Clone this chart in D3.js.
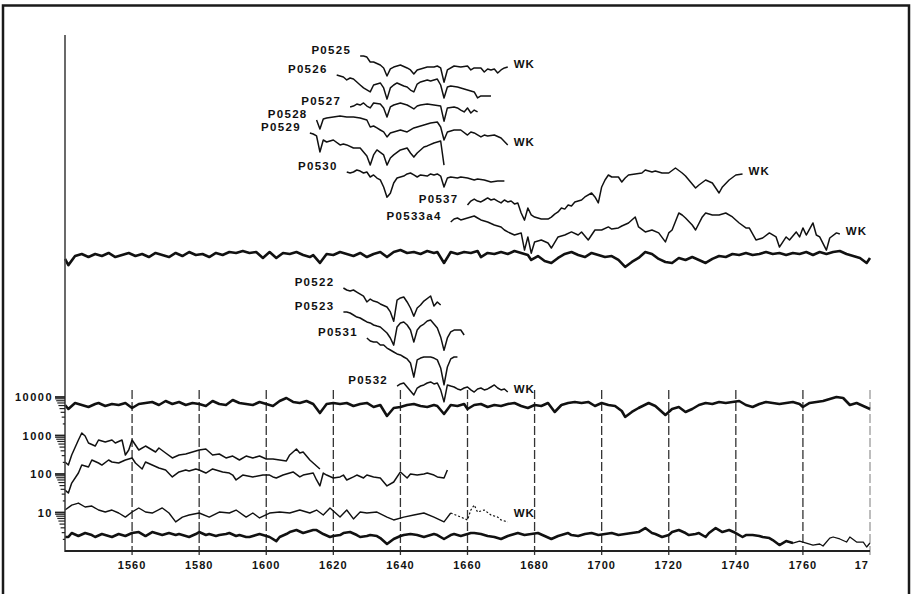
<!DOCTYPE html>
<html>
<head>
<meta charset="utf-8">
<script src="https://cdn.jsdelivr.net/npm/d3@7"></script>
<style>
  body { margin: 0; background: #fff; }
  text { font-family: "Liberation Sans", Arial, sans-serif; font-weight: bold; fill: #111; }
</style>
</head>
<body>
<svg id="chart" width="912" height="594"></svg>
<script>
// Ring-width series as [year, width] pairs (widths in 1/100 mm unless noted).
// Stacked series are shifted on the log axis by a number of decades (see layers).

// Upper reference chronology (index values)
const masterUpper = [[1540,84],[1541,58],[1543,100],[1545,113],[1547,94],[1549,113],[1551,100],[1553,120],[1555,94],[1557,106],[1559,120],[1561,100],[1563,113],[1565,94],[1567,120],[1569,106],[1571,94],[1573,120],[1575,100],[1577,127],[1579,106],[1581,113],[1583,94],[1585,120],[1587,106],[1589,127],[1591,120],[1593,135],[1595,120],[1597,127],[1599,89],[1601,127],[1603,89],[1605,120],[1607,113],[1609,127],[1611,106],[1613,94],[1614,106],[1616,66],[1618,113],[1620,106],[1622,127],[1624,113],[1626,100],[1628,120],[1630,94],[1632,113],[1634,127],[1636,94],[1638,127],[1640,143],[1642,120],[1644,127],[1646,113],[1648,135],[1650,120],[1651,127],[1653,66],[1655,127],[1657,113],[1659,127],[1661,120],[1663,135],[1664,94],[1666,120],[1668,113],[1670,127],[1672,113],[1674,135],[1676,120],[1678,106],[1679,79],[1681,100],[1683,74],[1685,66],[1687,89],[1689,113],[1691,127],[1693,106],[1695,94],[1697,120],[1699,106],[1701,94],[1703,100],[1705,79],[1707,52],[1709,70],[1711,89],[1713,127],[1715,113],[1717,84],[1719,70],[1721,66],[1723,89],[1725,79],[1727,94],[1729,79],[1731,66],[1733,84],[1735,100],[1737,94],[1739,113],[1741,106],[1743,120],[1745,106],[1747,113],[1749,127],[1751,113],[1753,120],[1755,106],[1757,120],[1759,113],[1761,127],[1763,106],[1765,127],[1767,113],[1769,127],[1771,135],[1773,113],[1775,100],[1777,89],[1779,66],[1780,89]];

// Individual samples, upper group
const p0525 = [[1628,182],[1629,182],[1630,171],[1631,127],[1632,127],[1634,106],[1635,89],[1636,55],[1637,84],[1638,94],[1640,106],[1642,89],[1643,79],[1644,62],[1645,79],[1646,84],[1648,94],[1650,94],[1651,100],[1652,89],[1653,38],[1654,79],[1656,100],[1658,94],[1660,100],[1661,79],[1662,89],[1664,89],[1665,70],[1666,84],[1667,79],[1668,84],[1669,66],[1670,79],[1671,89],[1672,94]];
const p0526 = [[1621,182],[1622,171],[1623,161],[1624,135],[1625,152],[1626,143],[1628,100],[1629,84],[1631,66],[1632,100],[1634,113],[1635,84],[1636,43],[1637,84],[1638,100],[1639,113],[1641,94],[1642,89],[1643,74],[1644,66],[1645,106],[1646,120],[1648,135],[1649,127],[1651,143],[1652,100],[1653,46],[1654,89],[1655,94],[1657,89],[1659,79],[1661,70],[1662,66],[1663,46],[1664,52],[1667,52]];
const p0527 = [[1625,89],[1626,94],[1627,106],[1628,100],[1629,113],[1630,94],[1631,84],[1632,113],[1634,106],[1635,84],[1636,49],[1637,89],[1638,100],[1640,113],[1642,100],[1643,89],[1644,79],[1645,94],[1646,100],[1648,106],[1650,100],[1652,94],[1653,38],[1654,84],[1656,89],[1657,84],[1658,74],[1659,66],[1660,84],[1661,62],[1662,74],[1663,66]];
const p0528 = [[1615,182],[1616,106],[1617,193],[1618,205],[1620,218],[1622,231],[1624,218],[1626,218],[1628,205],[1630,182],[1631,120],[1632,127],[1633,113],[1634,100],[1635,89],[1636,66],[1637,84],[1638,89],[1640,100],[1641,94],[1642,89],[1644,113],[1646,127],[1648,143],[1649,152],[1651,161],[1652,120],[1653,55],[1654,89],[1656,100],[1658,100],[1660,74],[1661,89],[1662,84],[1664,66],[1665,74],[1666,70],[1668,74],[1670,62],[1672,41]];
const p0529 = [[1613,245],[1614,231],[1615,205],[1616,79],[1617,161],[1618,143],[1619,152],[1620,161],[1622,120],[1623,127],[1624,120],[1626,100],[1628,100],[1629,79],[1630,62],[1631,36],[1632,66],[1633,89],[1635,66],[1636,36],[1637,55],[1638,66],[1640,89],[1642,100],[1643,74],[1644,58],[1645,74],[1647,106],[1648,113],[1650,135],[1651,143],[1652,152],[1653,36]];
const p0530 = [[1624,135],[1625,127],[1626,135],[1627,152],[1628,143],[1629,127],[1630,135],[1631,100],[1632,113],[1633,94],[1634,84],[1635,55],[1636,30],[1637,38],[1638,70],[1639,94],[1640,100],[1641,106],[1642,120],[1643,127],[1644,113],[1645,100],[1646,113],[1648,106],[1649,120],[1650,113],[1651,120],[1652,106],[1653,55],[1654,94],[1655,100],[1657,94],[1658,100],[1660,94],[1662,84],[1663,89],[1665,84],[1667,74],[1669,79],[1671,79]];
const p0537 = [[1660,74],[1661,94],[1662,106],[1663,94],[1664,89],[1665,100],[1666,113],[1667,100],[1668,106],[1669,94],[1670,84],[1671,100],[1672,89],[1673,94],[1674,79],[1675,84],[1676,46],[1677,30],[1678,62],[1679,41],[1680,36],[1682,32],[1684,32],[1685,36],[1686,43],[1687,49],[1688,62],[1689,58],[1690,74],[1691,70],[1692,89],[1694,100],[1695,120],[1697,152],[1698,120],[1699,84],[1700,218],[1701,331],[1702,446],[1703,396],[1705,396],[1706,293],[1707,372],[1708,446],[1710,473],[1712,502],[1713,601],[1715,533],[1716,566],[1718,502],[1720,502],[1722,678],[1724,502],[1725,420],[1726,331],[1728,205],[1729,245],[1731,331],[1733,276],[1735,152],[1736,218],[1738,331],[1740,446],[1742,473]];
const p0533a4 = [[1655,161],[1656,193],[1657,205],[1658,182],[1659,193],[1660,205],[1661,218],[1662,231],[1663,205],[1664,182],[1666,161],[1668,135],[1670,120],[1671,100],[1672,89],[1674,74],[1675,79],[1676,84],[1677,30],[1678,66],[1679,25],[1680,49],[1682,55],[1684,46],[1685,34],[1687,66],[1688,70],[1689,74],[1691,89],[1693,74],[1694,89],[1696,55],[1698,100],[1700,100],[1702,120],[1703,106],[1705,113],[1706,127],[1708,152],[1710,218],[1711,120],[1713,89],[1715,100],[1717,84],[1719,49],[1720,84],[1721,100],[1723,276],[1724,245],[1725,205],[1727,135],[1728,100],[1730,218],[1731,276],[1733,245],[1735,245],[1737,276],[1739,218],[1741,152],[1743,113],[1744,113],[1746,55],[1748,62],[1750,84],[1752,66],[1753,36],[1755,66],[1756,55],[1758,89],[1759,66],[1760,113],[1761,74],[1763,152],[1764,74],[1765,66],[1767,30],[1768,62],[1770,84],[1771,79]];

// Individual samples, lower group
const p0522 = [[1623,205],[1624,182],[1625,171],[1626,182],[1627,161],[1628,143],[1629,127],[1630,89],[1631,106],[1632,94],[1633,89],[1634,79],[1636,66],[1637,49],[1638,28],[1639,100],[1640,113],[1641,120],[1642,89],[1643,62],[1644,38],[1645,62],[1646,74],[1647,94],[1649,127],[1650,70],[1651,89],[1652,74]];
const p0523 = [[1623,218],[1624,218],[1625,205],[1626,182],[1627,161],[1628,152],[1629,135],[1630,120],[1631,113],[1632,100],[1633,94],[1634,89],[1635,74],[1636,62],[1637,46],[1638,30],[1639,89],[1640,113],[1641,120],[1642,100],[1643,74],[1644,36],[1645,74],[1646,94],[1647,106],[1648,127],[1649,135],[1650,106],[1651,84],[1652,49],[1653,22],[1654,46],[1655,66],[1656,74],[1658,74],[1659,55]];
const p0531 = [[1630,311],[1631,260],[1632,245],[1633,245],[1634,205],[1635,205],[1636,171],[1637,152],[1638,135],[1639,120],[1640,113],[1641,100],[1642,89],[1643,70],[1644,30],[1645,84],[1646,94],[1647,100],[1649,100],[1650,94],[1651,84],[1652,52],[1653,19],[1654,55],[1655,89],[1656,100],[1657,100]];
const p0532 = [[1639,106],[1640,120],[1641,127],[1642,100],[1643,79],[1644,62],[1645,94],[1646,106],[1647,113],[1648,127],[1649,135],[1650,120],[1651,127],[1652,84],[1653,41],[1654,113],[1655,106],[1656,100],[1657,89],[1658,84],[1659,94],[1660,100],[1661,84],[1662,74],[1663,89],[1664,94],[1665,84],[1666,89],[1667,100],[1668,113],[1669,94],[1670,84],[1671,89],[1672,74]];

// Log-scale panel: reference chronology, two mean curves, a site curve and sample depth
const masterLower = [[1540,6200],[1541,4880],[1543,6990],[1545,6200],[1547,5500],[1549,6580],[1550,6990],[1552,5840],[1554,6580],[1556,6200],[1558,6990],[1560,5180],[1562,6580],[1564,6990],[1566,7420],[1568,6200],[1570,7870],[1572,6580],[1574,7420],[1576,6200],[1578,6990],[1580,6580],[1582,5840],[1584,7870],[1586,6580],[1588,6200],[1590,8360],[1592,6990],[1594,6580],[1596,6200],[1598,7420],[1600,6580],[1602,5840],[1604,7870],[1606,9420],[1608,7420],[1610,6990],[1612,7870],[1614,6580],[1616,3840],[1618,6580],[1620,6990],[1622,6580],[1624,6990],[1626,5840],[1628,6580],[1630,6990],[1632,5500],[1634,6200],[1636,3210],[1638,5180],[1640,5500],[1642,6200],[1644,6580],[1646,5840],[1648,5500],[1650,6200],[1651,5840],[1653,3620],[1655,6200],[1657,5840],[1659,6580],[1660,4880],[1662,6200],[1664,6580],[1666,5500],[1668,6200],[1670,5840],[1672,6580],[1674,6990],[1676,5840],[1678,5180],[1680,6200],[1682,5840],[1684,6990],[1686,4080],[1688,6200],[1690,6990],[1692,7420],[1694,6990],[1696,7420],[1698,5840],[1700,6990],[1702,6200],[1704,5840],[1706,4330],[1707,3030],[1709,4080],[1711,5180],[1714,6990],[1716,5840],[1719,3410],[1721,4880],[1723,5500],[1725,4080],[1727,4880],[1729,6200],[1731,6990],[1733,6580],[1735,7420],[1737,6990],[1739,7420],[1741,7870],[1743,6200],[1745,5500],[1747,6580],[1749,7420],[1751,6990],[1753,6580],[1755,6990],[1757,7420],[1759,6580],[1760,5500],[1762,6990],[1764,7420],[1766,7870],[1768,8870],[1770,10000],[1772,9420],[1774,6200],[1776,6990],[1778,5840],[1780,4880]];
const meanCurveA = [[1540,205],[1541,171],[1542,312],[1544,764],[1545,1161],[1546,970],[1547,639],[1549,533],[1550,764],[1552,678],[1554,764],[1555,639],[1557,764],[1558,312],[1559,420],[1560,764],[1561,567],[1562,420],[1564,533],[1565,474],[1567,373],[1568,474],[1570,351],[1572,261],[1574,312],[1576,331],[1578,373],[1580,420],[1582,446],[1584,312],[1586,331],[1588,261],[1590,293],[1592,231],[1594,293],[1596,261],[1598,293],[1600,246],[1602,246],[1604,231],[1606,218],[1607,312],[1609,446],[1610,351],[1611,373],[1613,231],[1614,193],[1616,135]];
const meanCurveB = [[1540,38],[1541,32],[1542,58],[1544,106],[1545,171],[1547,152],[1548,231],[1550,193],[1551,171],[1553,231],[1554,205],[1556,193],[1558,231],[1560,260],[1561,193],[1563,135],[1564,205],[1566,171],[1568,143],[1570,127],[1572,84],[1574,113],[1576,127],[1577,120],[1579,135],[1580,127],[1582,106],[1584,135],[1587,113],[1589,106],[1590,94],[1591,70],[1593,94],[1596,84],[1599,94],[1601,94],[1602,84],[1603,79],[1605,94],[1606,100],[1608,113],[1610,84],[1611,94],[1614,106],[1615,70],[1616,49],[1617,106],[1618,94],[1620,79],[1622,84],[1623,94],[1624,70],[1626,84],[1627,94],[1629,79],[1630,94],[1632,84],[1634,79],[1636,49],[1638,62],[1640,113],[1642,79],[1643,100],[1645,94],[1647,100],[1648,106],[1650,94],[1651,84],[1653,79],[1654,127]];
const siteCurve = [[1540,11.6],[1542,15.6],[1544,17.6],[1546,13.9],[1548,14.7],[1550,11.6],[1552,10.3],[1554,11.6],[1556,9.7],[1558,7.6],[1560,10.3],[1562,13.1],[1564,10.3],[1566,9.7],[1569,13.1],[1571,9.7],[1573,5.7],[1575,7.6],[1577,8.6],[1580,9.7],[1583,7.6],[1586,10.3],[1589,9.7],[1591,11.6],[1594,7.6],[1596,9.7],[1598,7.2],[1601,9.7],[1604,10.3],[1607,9.7],[1610,11.6],[1613,9.7],[1615,11.6],[1617,8.6],[1619,13.1],[1622,7.6],[1624,11.6],[1626,6.8],[1628,10.3],[1630,9.7],[1633,10.3],[1636,7.6],[1638,6.4],[1641,7.6],[1644,8.6],[1647,9.7],[1650,7.6],[1653,5.7],[1655,9.7]];
const siteCurveLate = [[1655,9.7],[1658,7.6],[1660,6.4],[1661,11.6],[1662,15.6],[1663,10.3],[1665,11.6],[1667,8.6],[1669,7.6],[1670,6.4],[1672,5.7]];
const sampleDepth = [[1540,2.31],[1541,2.31],[1542,2.93],[1544,2.45],[1546,2.93],[1548,2.6],[1549,2.31],[1551,2.76],[1553,2.45],[1554,2.31],[1556,2.76],[1558,2.45],[1560,2.93],[1562,3.11],[1564,2.45],[1566,3.11],[1568,2.76],[1569,2.6],[1571,2.93],[1573,2.6],[1574,2.76],[1576,2.45],[1577,2.31],[1579,2.76],[1580,3.11],[1582,2.6],[1583,2.76],[1585,2.45],[1586,2.6],[1588,2.76],[1589,2.93],[1591,2.45],[1592,2.6],[1594,2.31],[1595,2.31],[1597,2.6],[1598,2.76],[1600,2.45],[1601,2.31],[1603,1.81],[1604,2.31],[1606,2.76],[1607,3.11],[1609,3.5],[1611,2.93],[1612,3.11],[1614,3.5],[1615,3.5],[1617,2.76],[1619,2.31],[1620,2.45],[1622,2.6],[1623,2.93],[1625,3.11],[1627,2.6],[1628,2.31],[1630,2.45],[1631,2.6],[1633,2.45],[1634,2.17],[1636,1.52],[1638,2.05],[1640,2.45],[1641,2.6],[1643,2.76],[1645,2.6],[1647,2.31],[1648,2.45],[1650,2.76],[1651,2.6],[1653,2.05],[1655,2.6],[1656,2.76],[1658,2.45],[1659,2.6],[1661,2.93],[1662,2.93],[1664,2.76],[1666,2.45],[1668,2.31],[1670,2.05],[1672,2.45],[1674,2.76],[1675,2.93],[1677,2.6],[1679,2.76],[1681,2.93],[1683,2.45],[1685,2.05],[1687,2.45],[1690,2.93],[1691,2.6],[1693,2.45],[1695,2.76],[1697,2.93],[1699,2.6],[1701,2.76],[1703,2.93],[1705,2.6],[1707,2.76],[1709,2.93],[1711,3.11],[1713,3.95],[1715,2.93],[1716,2.76],[1718,2.31],[1720,2.6],[1721,3.11],[1723,3.5],[1725,2.93],[1726,2.6],[1728,2.76],[1729,2.93],[1731,2.31],[1732,2.93],[1734,3.95],[1736,3.11],[1738,3.5],[1740,2.93],[1742,2.31],[1743,2.6],[1745,2.6],[1747,2.45],[1748,2.31],[1750,2.17],[1751,1.93],[1753,1.43],[1755,1.81],[1757,1.61]];
const sampleDepthLate = [[1755,1.81],[1757,1.61],[1759,1.81],[1761,1.61],[1763,1.43],[1765,1.52],[1766,1.35],[1768,2.17],[1769,2.31],[1771,2.05],[1773,1.71],[1774,2.31],[1776,1.71],[1778,1.71],[1779,1.27],[1780,1.61]];

// Axis ticks and labels
const yearTicks = [1560, 1580, 1600, 1620, 1640, 1660, 1680, 1700, 1720, 1740, 1760, 1780];
const yearLabels = ["1560", "1580", "1600", "1620", "1640", "1660", "1680", "1700", "1720", "1740", "1760", "17"];
const logTicks = [10, 100, 1000, 10000];
const logLabels = ["10", "100", "1000", "10000"];

// Drawing layers: which series, its shift in log decades, line style, labels
const layers = [
  { data: masterUpper, shift: 5.662, width: 2.6 },
  { data: p0525, shift: 10.597, width: 1.5, label: "P0525", wk: true },
  { data: p0526, shift: 10.104, width: 1.5, label: "P0526" },
  { data: p0527, shift: 9.584, width: 1.5, label: "P0527" },
  { data: p0528, shift: 8.935, width: 1.5, label: "P0528", wk: true },
  { data: p0529, shift: 8.468, width: 1.5, label: "P0529" },
  { data: p0530, shift: 7.714, width: 1.5, label: "P0530" },
  { data: p0537, shift: 7.117, width: 1.5, label: "P0537", wk: true },
  { data: p0533a4, shift: 6.338, width: 1.5, label: "P0533a4", wk: true },
  { data: p0522, shift: 4.519, width: 1.5, label: "P0522" },
  { data: p0523, shift: 3.870, width: 1.5, label: "P0523" },
  { data: p0531, shift: 3.039, width: 1.5, label: "P0531" },
  { data: p0532, shift: 2.260, width: 1.5, label: "P0532", wk: true },
  { data: masterLower, shift: 0, width: 2.6 },
  { data: meanCurveA, shift: 0, width: 1.5 },
  { data: meanCurveB, shift: 0, width: 1.5 },
  { data: siteCurve, shift: 0, width: 1.4 },
  { data: siteCurveLate, shift: 0, width: 1.2, dash: "2,2", wk: true, wkDy: -6 },
  { data: sampleDepth, shift: 0, width: 2.6 },
  { data: sampleDepthLate, shift: 0, width: 1.3 }
];

const svg = d3.select("#chart");
const plot = { left: 65, right: 870, top: 35, bottom: 551, gridTop: 390 };

const x = d3.scaleLinear().domain([1540, 1780]).range([plot.left, plot.right]);
// 38.5 px per decade; values above 10000 are the stacked, shifted series
const y = d3.scaleLog().domain([1, 10000]).range([plot.bottom, plot.bottom - 4 * 38.5]);

// outer frame
svg.append("rect").attr("x", 3).attr("y", 5.5).attr("width", 906).attr("height", 600)
  .attr("fill", "#fff").attr("stroke", "#1a1a1a").attr("stroke-width", 2.5);

// dashed year grid
svg.append("g").selectAll("line").data(yearTicks).join("line")
  .attr("x1", d => x(d)).attr("x2", d => x(d))
  .attr("y1", plot.gridTop).attr("y2", plot.bottom + 6)
  .attr("stroke", (d, i) => i === yearTicks.length - 1 ? "#9a9a9a" : "#333")
  .attr("stroke-width", 1.3).attr("stroke-dasharray", "9,3");

// series
const line = shift => d3.line()
  .x(d => x(d[0]))
  .y(d => y(d[1] * Math.pow(10, shift)));

const g = svg.append("g").attr("fill", "none").attr("stroke-linejoin", "round");
layers.forEach(L => {
  g.append("path").datum(L.data)
    .attr("d", line(L.shift))
    .attr("stroke", "#111")
    .attr("stroke-width", L.width)
    .attr("stroke-dasharray", L.dash || null);
});

// sample names at the start, "WK" (waney edge) at the end
const labels = svg.append("g");
layers.forEach(L => {
  const k = Math.pow(10, L.shift);
  if (L.label) {
    const s = L.data[0];
    labels.append("text")
      .attr("x", x(s[0]) - 9).attr("y", y(s[1] * k) - 2)
      .attr("text-anchor", "end").attr("font-size", 11.5)
      .attr("letter-spacing", 1.3).text(L.label);
  }
  if (L.wk) {
    const e = L.data[L.data.length - 1];
    labels.append("text")
      .attr("x", x(e[0]) + 6).attr("y", y(e[1] * k) + 1 + (L.wkDy || 0))
      .attr("font-size", 11.5).attr("letter-spacing", 1).text("WK");
  }
});

// y axis: long line with log ticks for the lower panel
const yAxis = svg.append("g");
yAxis.append("line").attr("x1", plot.left).attr("x2", plot.left)
  .attr("y1", plot.top).attr("y2", plot.bottom + 1)
  .attr("stroke", "#444").attr("stroke-width", 1.6);
const minor = [];
[1, 10, 100, 1000].forEach(base => {
  for (let m = 2; m <= 9; m++) minor.push({ v: base * m, len: m * 1.1 });
});
yAxis.selectAll(".minor").data(minor).join("line")
  .attr("x1", d => plot.left - d.len).attr("x2", plot.left)
  .attr("y1", d => y(d.v)).attr("y2", d => y(d.v))
  .attr("stroke", "#222").attr("stroke-width", 1.2);
yAxis.selectAll(".major").data(logTicks).join("line")
  .attr("x1", plot.left - 10).attr("x2", plot.left)
  .attr("y1", d => y(d)).attr("y2", d => y(d))
  .attr("stroke", "#222").attr("stroke-width", 1.8);
yAxis.selectAll("text").data(logTicks).join("text")
  .attr("x", plot.left - 12).attr("y", d => y(d) + 4)
  .attr("text-anchor", "end").attr("font-size", 11).attr("letter-spacing", 1.5)
  .text((d, i) => logLabels[i]);

// x axis
const xAxis = svg.append("g");
xAxis.append("line").attr("x1", plot.left).attr("x2", plot.right)
  .attr("y1", plot.bottom).attr("y2", plot.bottom)
  .attr("stroke", "#222").attr("stroke-width", 2);
xAxis.selectAll("text").data(yearTicks).join("text")
  .attr("x", (d, i) => i === yearTicks.length - 1 ? x(d) - 1 : x(d))
  .attr("y", plot.bottom + 18)
  .attr("text-anchor", (d, i) => i === yearTicks.length - 1 ? "end" : "middle")
  .attr("font-size", 11).attr("letter-spacing", 1)
  .text((d, i) => yearLabels[i]);
</script>
</body>
</html>
